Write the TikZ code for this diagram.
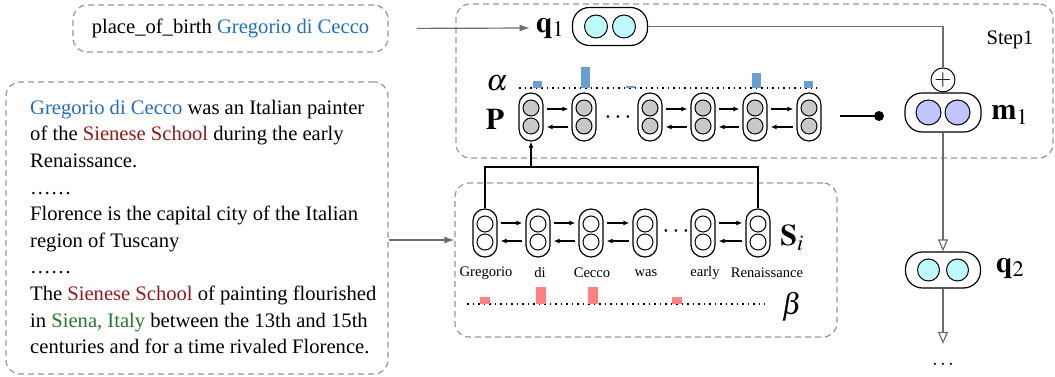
\documentclass[tikz,border=0pt]{standalone}
\usepackage{mathptmx}
\usepackage{fontspec}
\setmainfont{Liberation Serif}
\usepackage{xcolor}
\usetikzlibrary{arrows.meta, positioning}
\definecolor{entblue}{RGB}{30,110,200}
\definecolor{schred}{RGB}{150,25,25}
\definecolor{sgreen}{RGB}{35,120,45}
\definecolor{boxgray}{RGB}{150,150,150}
\definecolor{linegray}{RGB}{110,110,110}
\definecolor{pgray}{RGB}{200,200,200}
\definecolor{qcyan}{RGB}{190,250,252}
\definecolor{mlav}{RGB}{195,195,255}
\definecolor{abar}{RGB}{105,158,210}
\definecolor{bbar}{RGB}{255,128,128}
\tikzstyle{arrow} = [-{Latex[length=6pt,width=5pt]}, line width=1.2pt]
\tikzstyle{link} = [arrow, shorten <=3pt, shorten >=3pt]
\tikzstyle{gray-line} = [draw=linegray, line width=1.2pt]
\tikzstyle{gray-arrow} = [gray-line, -{Latex[length=10pt,width=7pt]}]
\tikzstyle{open-arrow} = [gray-line, -{Triangle[open,length=12pt,width=10pt]}]
\tikzstyle{dashbox} = [draw=boxgray, dash pattern=on 6pt off 4pt, line width=1.2pt, rounded corners=14pt]
\tikzstyle{score} = [dash pattern=on 1.5pt off 4pt, line width=1.5pt]
\tikzstyle{cell} = [rectangle, draw=black, line width=1.2pt, rounded corners=11.9pt, minimum width=24pt, minimum height=48pt, inner sep=0pt]
\tikzstyle{hcell} = [rectangle, draw=black, line width=1.2pt, rounded corners=17pt, minimum width=75pt, minimum height=38pt, inner sep=0pt]
\tikzstyle{pdot} = [circle, draw=black, line width=1pt, fill=pgray, minimum size=16pt, inner sep=0pt]
\tikzstyle{sdot} = [circle, draw=black, line width=1pt, fill=white, minimum size=16pt, inner sep=0pt]
\tikzstyle{qdot} = [circle, draw=black, line width=1pt, fill=qcyan, minimum size=23pt, inner sep=0pt]
\tikzstyle{mdot} = [circle, draw=black, line width=1pt, fill=mlav, minimum size=25pt, inner sep=0pt]
\tikzstyle{mathlab} = [font=\fontsize{30}{34}\selectfont, inner sep=2pt]
\tikzstyle{gap} = [font=\fontsize{26}{30}\selectfont, inner sep=2pt]
\tikzstyle{word} = [font=\fontsize{14.6}{17}\selectfont, inner sep=0pt]
\newcommand*{\ent}[1]{{\color{entblue}#1}}
\newcommand*{\sch}[1]{{\color{schred}#1}}
\newcommand*{\loc}[1]{{\color{sgreen}#1}}

\begin{document}
\begin{tikzpicture}[x=1pt, y=1pt, font=\fontsize{20.6}{26.6}\selectfont]
  \useasboundingbox (0,0) rectangle (1055,377);

  % Boxes
  \node[dashbox, minimum width=315pt, minimum height=47pt] (query) at (230.5,348.5) {place\_of\_birth \ent{Gregorio di Cecco}};
  \node[dashbox, minimum width=382pt, minimum height=292pt] (doc) at (197,149) {};
  \node[anchor=west, align=left] (doctext) at (26.7,150) {%
    \ent{Gregorio di Cecco} was an Italian painter\\
    of the \sch{Sienese School} during the early\\
    Renaissance.\\
    ……\\
    Florence is the capital city of the Italian\\
    region of Tuscany\\
    ……\\
    The \sch{Sienese School} of painting flourished\\
    in \loc{Siena, Italy} between the 13th and 15th\\
    centuries and for a time rivaled Florence.};
  \node[dashbox, minimum width=597pt, minimum height=154pt] (stepbox) at (754.5,296) {};
  \node[dashbox, minimum width=382pt, minimum height=154pt] (sbox) at (646,117) {};
  \node (step) at (1010,337) {Step1};

  % Question vector
  \node[mathlab] (q1lab) at (550,349) {$\mathbf{q}_1$};
  \node[hcell] (q1) at (610,350.5) {};
  \node[qdot] (q1a) at (596,350.5) {};
  \node[qdot] (q1b) at (624,350.5) {};
  \draw[gray-arrow, shorten <=28pt, shorten >=4pt] (query.east) -- (q1lab.west);

  % P layer
  \node[mathlab] (plab) at (495,258) {$\mathbf{P}$};
  \node[mathlab] (alab) at (497,294) {$\alpha$};
  \node[cell] (p1) at (531,260) {};
  \node[pdot] (p1a) at (531,269) {};
  \node[pdot] (p1b) at (531,251) {};
  \node[cell] (p2) at (584,260) {};
  \node[pdot] (p2a) at (584,269) {};
  \node[pdot] (p2b) at (584,251) {};
  \node[gap] (pdots) at (618,259) {$\cdots$};
  \node[cell] (p3) at (650,260) {};
  \node[pdot] (p3a) at (650,269) {};
  \node[pdot] (p3b) at (650,251) {};
  \node[cell] (p4) at (703,260) {};
  \node[pdot] (p4a) at (703,269) {};
  \node[pdot] (p4b) at (703,251) {};
  \node[cell] (p5) at (755,260) {};
  \node[pdot] (p5a) at (755,269) {};
  \node[pdot] (p5b) at (755,251) {};
  \node[cell] (p6) at (809,260) {};
  \node[pdot] (p6a) at (809,269) {};
  \node[pdot] (p6b) at (809,251) {};

  \draw[link] ([yshift=8pt]p1.east) -- ([yshift=8pt]p2.west);
  \draw[link] ([yshift=-10pt]p2.west) -- ([yshift=-10pt]p1.east);
  \draw[link] ([yshift=8pt]p3.east) -- ([yshift=8pt]p4.west);
  \draw[link] ([yshift=-10pt]p4.west) -- ([yshift=-10pt]p3.east);
  \draw[link] ([yshift=8pt]p4.east) -- ([yshift=8pt]p5.west);
  \draw[link] ([yshift=-10pt]p5.west) -- ([yshift=-10pt]p4.east);
  \draw[link] ([yshift=8pt]p5.east) -- ([yshift=8pt]p6.west);
  \draw[link] ([yshift=-10pt]p6.west) -- ([yshift=-10pt]p5.east);

  % attention alpha
  \draw[score] (519,289) -- (817,289);
  \fill[abar] (532.5,289) rectangle ++(9,7);
  \fill[abar] (580.5,289) rectangle ++(9,21);
  \fill[abar] (625.5,289) rectangle ++(9,2);
  \fill[abar] (751.5,289) rectangle ++(9,15);
  \fill[abar] (803.5,289) rectangle ++(9,7);

  \coordinate (pout) at (840,261);
  \node[circle, fill=black, minimum size=10pt, inner sep=0pt] (pend) at (879,261) {};
  \draw[line width=1.2pt] (pout) -- (pend);

  % Memory
  \node[hcell, minimum width=76pt, minimum height=39pt] (m1) at (943,264.5) {};
  \node[mdot] (m1a) at (928.5,264.5) {};
  \node[mdot] (m1b) at (957.5,264.5) {};
  \node[mathlab] (m1lab) at (1010,262) {$\mathbf{m}_1$};
  \node[circle, draw=black, line width=1pt, minimum size=24pt, inner sep=0pt, anchor=south, font=\fontsize{22}{24}\selectfont] (oplus) at (m1.north) {$+$};
  \draw[gray-line] (q1.east) -| (oplus.north);

  % Next question
  \node[hcell, minimum height=36pt] (q2) at (943,107) {};
  \node[qdot, minimum size=22pt] (q2a) at (928.5,107) {};
  \node[qdot, minimum size=22pt] (q2b) at (957.5,107) {};
  \node[mathlab] (q2lab) at (1010,109) {$\mathbf{q}_2$};
  \node (more) at (943,12) {$\cdots$};
  \draw[open-arrow] (m1.south) -- (q2.north);
  \draw[open-arrow, shorten >=13pt] (q2.south) -- (more.north);

  % S layer
  \node[cell] (s1) at (485,144) {};
  \node[sdot] (s1a) at (485,153) {};
  \node[sdot] (s1b) at (485,135) {};
  \node[cell] (s2) at (538,144) {};
  \node[sdot] (s2a) at (538,153) {};
  \node[sdot] (s2b) at (538,135) {};
  \node[cell] (s3) at (591,144) {};
  \node[sdot] (s3a) at (591,153) {};
  \node[sdot] (s3b) at (591,135) {};
  \node[cell] (s4) at (645,144) {};
  \node[sdot] (s4a) at (645,153) {};
  \node[sdot] (s4b) at (645,135) {};
  \node[gap] (sdots) at (676,145) {$\cdots$};
  \node[cell] (s5) at (703,144) {};
  \node[sdot] (s5a) at (703,153) {};
  \node[sdot] (s5b) at (703,135) {};
  \node[cell] (s6) at (758,144) {};
  \node[sdot] (s6a) at (758,153) {};
  \node[sdot] (s6b) at (758,135) {};
  \node[mathlab] (slab) at (792,139) {$\mathbf{S}_i$};

  \draw[link] ([yshift=10pt]s1.east) -- ([yshift=10pt]s2.west);
  \draw[link] ([yshift=-8pt]s2.west) -- ([yshift=-8pt]s1.east);
  \draw[link] ([yshift=10pt]s2.east) -- ([yshift=10pt]s3.west);
  \draw[link] ([yshift=-8pt]s3.west) -- ([yshift=-8pt]s2.east);
  \draw[link] ([yshift=10pt]s3.east) -- ([yshift=10pt]s4.west);
  \draw[link] ([yshift=-8pt]s4.west) -- ([yshift=-8pt]s3.east);
  \draw[link] ([yshift=10pt]s5.east) -- ([yshift=10pt]s6.west);
  \draw[link] ([yshift=-8pt]s6.west) -- ([yshift=-8pt]s5.east);

  \node[word] (w1) at (486,104) {Gregorio};
  \node[word] (w2) at (540,104) {di};
  \node[word] (w3) at (592,104) {Cecco};
  \node[word] (w4) at (646,104) {was};
  \node[word] (w5) at (705,104) {early};
  \node[word] (w6) at (767,104) {Renaissance};

  % attention beta
  \node[mathlab] (blab) at (792,70) {$\beta$};
  \draw[score] (467,73) -- (765,73);
  \fill[bbar] (480,73) rectangle ++(10,7);
  \fill[bbar] (536,73) rectangle ++(10,17);
  \fill[bbar] (588,73) rectangle ++(10,17);
  \fill[bbar] (672,73) rectangle ++(10,7);

  % S to P
  \coordinate (sjoin) at (531,210);
  \draw[line width=1.2pt] (s1.north) |- (sjoin) -| (s6.north);
  \draw[arrow] (sjoin) -- (p1.south);
  \draw[gray-arrow] ([yshift=-12pt]doc.east) -- ([yshift=20pt]sbox.west);

\end{tikzpicture}
\end{document}
